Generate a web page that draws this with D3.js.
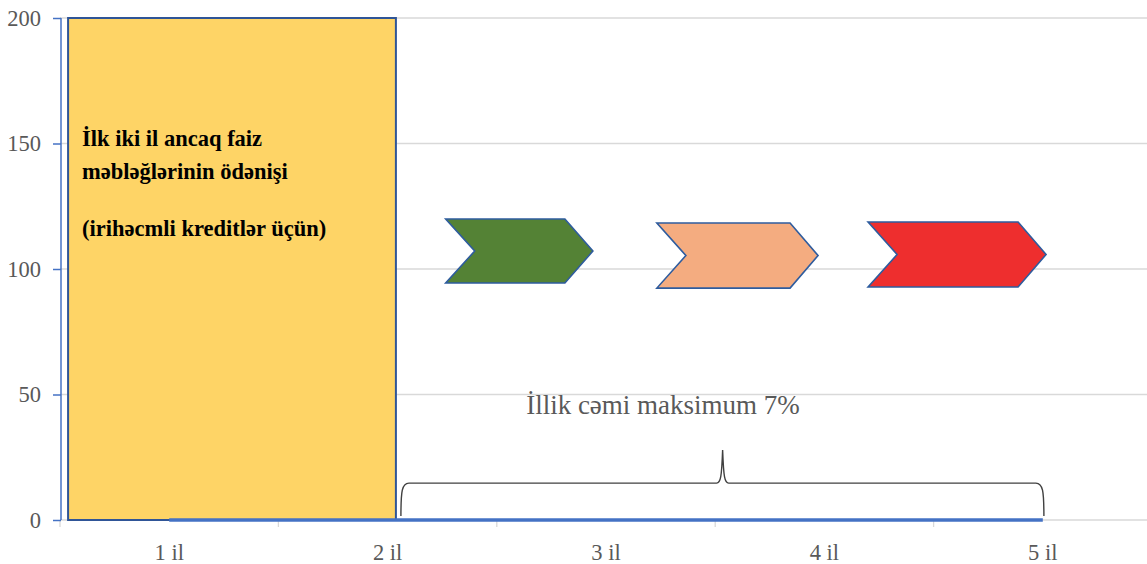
<!DOCTYPE html>
<html>
<head>
<meta charset="utf-8">
<script src="https://cdn.jsdelivr.net/npm/d3@7"></script>
<style>
  html, body { margin: 0; padding: 0; background: #fff; }
  svg { display: block; }
</style>
</head>
<body>
<svg id="chart" width="1147" height="564"></svg>
<script>
// Categories along the x axis and the plotted series (all zero: repayment line)
const categories = ["1 il", "2 il", "3 il", "4 il", "5 il"];
const seriesValues = [0, 0, 0, 0, 0];
const yTicks = [0, 50, 100, 150, 200];

// Grace-period block: spans from before "1 il" to just past "2 il", full height
const panelX = [0.537, 2.038];
const panelY = [0, 200];
const panelLines = ["İlk iki il ancaq faiz", "məbləğlərinin ödənişi", "", "(irihəcmli kreditlər üçün)"];

// Chevron arrows for years 3–5: [left, tip] in category units, [bottom, top] in value units
const chevronX = [[2.266, 2.940], [3.233, 3.971], [4.200, 5.015]];
const chevronY = [[94.4, 119.9], [92.4, 118.3], [92.8, 118.7]];
const chevronColors = ["#548235", "#F4AC80", "#EE2E2E"];

// Brace under years 3–5 with its caption
const braceX = [2.061, 3.534, 5.005];
const braceY = [1.6, 14.7, 27.9];
const braceLabel = "İllik cəmi maksimum 7%";

const svg = d3.select("#chart");
const W = 1147;
const plotLeft = 60, plotBottom = 520, plotTop = 18;
const step = 218.4;

const x = d3.scaleBand().domain(categories).range([plotLeft, plotLeft + step * categories.length]).padding(0);
const xPos = d3.scaleLinear().domain([0.5, categories.length + 0.5]).range([plotLeft, plotLeft + step * categories.length]);
const y = d3.scaleLinear().domain([0, 200]).range([plotBottom, plotTop]);

const serif = "'Liberation Serif', 'Times New Roman', serif";

// Horizontal gridlines
svg.append("g")
  .selectAll("line")
  .data(yTicks.filter(d => d > 0))
  .join("line")
  .attr("x1", plotLeft).attr("x2", W)
  .attr("y1", d => y(d)).attr("y2", d => y(d))
  .attr("stroke", "#d9d9d9").attr("stroke-width", 1.3);

// X axis: baseline, boundary ticks, category labels
const xAxis = d3.axisBottom(x).tickSize(0).tickPadding(0);
const gx = svg.append("g").attr("transform", `translate(0,${plotBottom})`).call(xAxis);
gx.select(".domain").remove();
gx.selectAll(".tick text")
  .attr("y", 40)
  .attr("dy", 0)
  .attr("fill", "#595959")
  .attr("font-family", serif)
  .attr("font-size", 22.5);
svg.append("line")
  .attr("x1", plotLeft).attr("x2", W)
  .attr("y1", plotBottom).attr("y2", plotBottom)
  .attr("stroke", "#d9d9d9").attr("stroke-width", 1.5);
svg.append("g")
  .selectAll("line")
  .data(d3.range(categories.length + 1))
  .join("line")
  .attr("x1", i => xPos(i + 0.5)).attr("x2", i => xPos(i + 0.5))
  .attr("y1", plotBottom).attr("y2", plotBottom + 7)
  .attr("stroke", "#d9d9d9").attr("stroke-width", 1.3);

// Y axis
const yAxis = d3.axisLeft(y).tickValues(yTicks).tickSize(8).tickPadding(12);
const gy = svg.append("g").attr("transform", `translate(${plotLeft + 1},0)`).call(yAxis);
gy.select(".domain").attr("stroke", "#4472C4").attr("stroke-width", 1.5).attr("d", `M0,${y(200)}V${y(0)}`);
gy.selectAll(".tick line").attr("stroke", "#4472C4").attr("stroke-width", 1.5);
gy.selectAll(".tick text")
  .attr("fill", "#595959")
  .attr("font-family", serif)
  .attr("font-size", 22.5);

// Grace-period block
svg.append("rect")
  .attr("x", xPos(panelX[0]))
  .attr("y", y(panelY[1]))
  .attr("width", xPos(panelX[1]) - xPos(panelX[0]))
  .attr("height", y(panelY[0]) - y(panelY[1]))
  .attr("fill", "#FED466")
  .attr("stroke", "#2F5597")
  .attr("stroke-width", 2);

const panelText = svg.append("text")
  .attr("font-family", serif)
  .attr("font-weight", "bold")
  .attr("font-size", 22.5)
  .attr("fill", "#000");
const lineOffsets = [0, 33, 61, 90];
panelLines.forEach((t, i) => {
  if (!t) return;
  panelText.append("tspan")
    .attr("x", xPos(panelX[0]) + 14)
    .attr("y", y(149) + lineOffsets[i])
    .text(t);
});

// Chevron arrows
const notch = 29, point = 28;
svg.append("g")
  .selectAll("path")
  .data(chevronX.map((cx, i) => ({ cx, cy: chevronY[i], fill: chevronColors[i] })))
  .join("path")
  .attr("d", d => {
    const x0 = xPos(d.cx[0]), x1 = xPos(d.cx[1]);
    const yb = y(d.cy[0]), yt = y(d.cy[1]), ym = (yb + yt) / 2;
    return `M${x0},${yt}L${x1 - point},${yt}L${x1},${ym}L${x1 - point},${yb}L${x0},${yb}L${x0 + notch},${ym}Z`;
  })
  .attr("fill", d => d.fill)
  .attr("stroke", "#2E5C9E")
  .attr("stroke-width", 1.6)
  .attr("stroke-linejoin", "miter");

// Series line along zero
const line = d3.line()
  .x((d, i) => x(categories[i]) + x.bandwidth() / 2)
  .y(d => y(d));
svg.append("path")
  .datum(seriesValues)
  .attr("d", line)
  .attr("fill", "none")
  .attr("stroke", "#4472C4")
  .attr("stroke-width", 3.5);

// Brace
const bx0 = xPos(braceX[0]), bxm = xPos(braceX[1]), bx1 = xPos(braceX[2]);
const yb = y(braceY[0]), yh = y(braceY[1]), yp = y(braceY[2]);
svg.append("path")
  .attr("d",
    `M${bx0},${yb}` +
    `C${bx0},${yh + 8} ${bx0 + 1},${yh} ${bx0 + 8},${yh}` +
    `L${bxm - 6},${yh}` +
    `C${bxm - 2},${yh} ${bxm - 1},${yh - 6} ${bxm},${yp}` +
    `C${bxm + 1},${yh - 6} ${bxm + 2},${yh} ${bxm + 6},${yh}` +
    `L${bx1 - 8},${yh}` +
    `C${bx1 - 1},${yh} ${bx1},${yh + 8} ${bx1},${yb}`)
  .attr("fill", "none")
  .attr("stroke", "#404040")
  .attr("stroke-width", 1.4);

svg.append("text")
  .attr("x", 663)
  .attr("y", 414)
  .attr("text-anchor", "middle")
  .attr("font-family", serif)
  .attr("font-size", 27)
  .attr("fill", "#595959")
  .text(braceLabel);
</script>
</body>
</html>
